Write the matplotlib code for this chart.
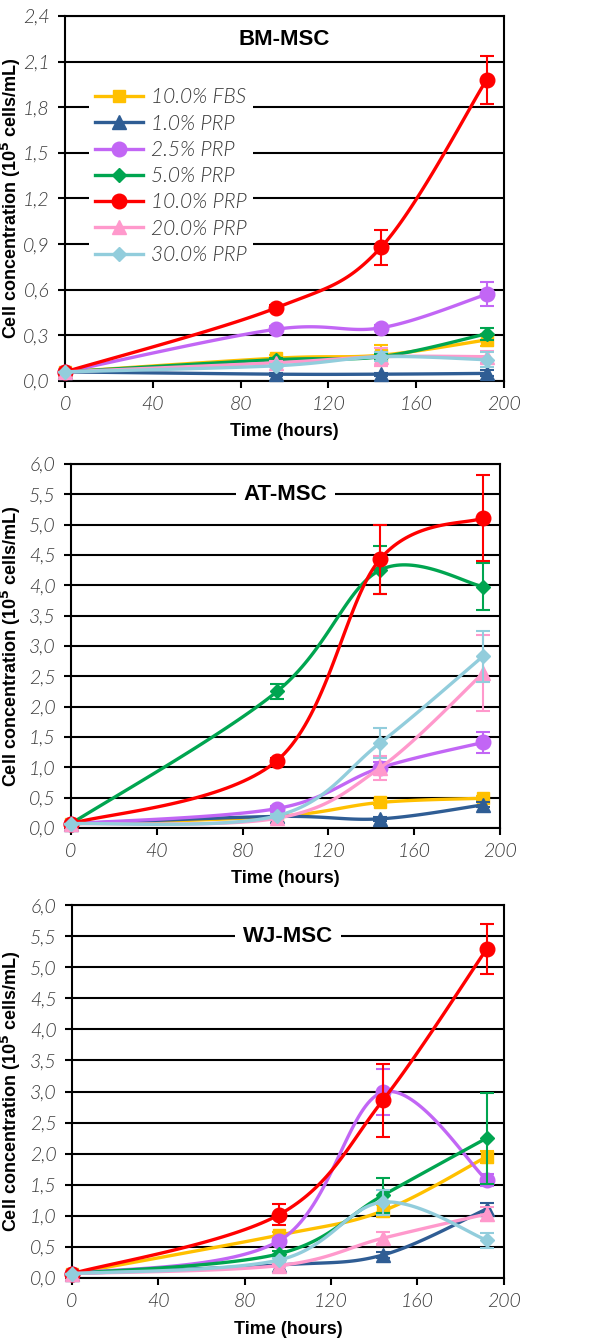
import numpy as np
import matplotlib
matplotlib.use('Agg')
import matplotlib.pyplot as plt
from matplotlib.lines import Line2D
from matplotlib.ticker import FuncFormatter

# time points (hours)
hours = [0, 96, 144, 192]

series_names = ['10.0% FBS', '1.0% PRP', '2.5% PRP', '5.0% PRP', '10.0% PRP', '20.0% PRP', '30.0% PRP']
colors = ['#FFC000', '#2F5D94', '#C266F5', '#00A550', '#FF0000', '#FF99CC', '#92CDDC']
markers = ['s', '^', 'o', 'D', 'o', '^', 'D']

# BM-MSC
bm_vals = [
    [0.06, 0.15, 0.17, 0.27],
    [0.06, 0.045, 0.045, 0.05],
    [0.06, 0.34, 0.35, 0.57],
    [0.06, 0.14, 0.16, 0.31],
    [0.06, 0.48, 0.88, 1.98],
    [0.06, 0.12, 0.16, 0.16],
    [0.06, 0.10, 0.16, 0.14],
]
bm_err = [
    [0, 0.02, 0.07, 0.04],
    [0, 0.01, 0.01, 0.02],
    [0, 0.02, 0.02, 0.08],
    [0, 0.01, 0.02, 0.04],
    [0, 0.02, 0.115, 0.16],
    [0, 0.01, 0.06, 0.04],
    [0, 0.01, 0.03, 0.05],
]

# AT-MSC
at_vals = [
    [0.07, 0.19, 0.42, 0.49],
    [0.07, 0.19, 0.15, 0.38],
    [0.07, 0.32, 0.99, 1.41],
    [0.07, 2.25, 4.25, 3.98],
    [0.07, 1.11, 4.43, 5.11],
    [0.07, 0.16, 0.99, 2.55],
    [0.07, 0.20, 1.40, 2.83],
]
at_err = [
    [0, 0.02, 0.04, 0.04],
    [0, 0.02, 0.03, 0.04],
    [0, 0.04, 0.10, 0.17],
    [0, 0.12, 0.40, 0.38],
    [0, 0.05, 0.57, 0.71],
    [0, 0.03, 0.20, 0.63],
    [0, 0.03, 0.24, 0.42],
]

# WJ-MSC
wj_vals = [
    [0.07, 0.69, 1.08, 1.95],
    [0.07, 0.21, 0.37, 1.11],
    [0.07, 0.60, 2.99, 1.58],
    [0.07, 0.39, 1.33, 2.25],
    [0.07, 1.02, 2.86, 5.29],
    [0.07, 0.20, 0.64, 1.03],
    [0.07, 0.29, 1.22, 0.61],
]
wj_err = [
    [0, 0.05, 0.10, 0.10],
    [0, 0.02, 0.05, 0.10],
    [0, 0.05, 0.37, 0.10],
    [0, 0.05, 0.28, 0.73],
    [0, 0.17, 0.59, 0.40],
    [0, 0.03, 0.10, 0.12],
    [0, 0.03, 0.20, 0.12],
]

tick_font = dict(family='Lato', style='italic', weight=300)
label_font = dict(family='Liberation Sans', weight='bold')
marker_size = {'o': 10.5, 's': 9, '^': 9.5, 'D': 7.5}


def smooth(x, y, n=40):
    # Catmull-Rom style bezier, like the spreadsheet "smoothed line"
    p = np.column_stack([x, y]).astype(float)
    out = []
    for i in range(len(p) - 1):
        p0 = p[i - 1] if i > 0 else p[i]
        p1, p2 = p[i], p[i + 1]
        p3 = p[i + 2] if i + 2 < len(p) else p[i + 1]
        c1 = p1 + (p2 - p0) / 6
        c2 = p2 - (p3 - p1) / 6
        t = np.linspace(0, 1, n)[:, None]
        seg = ((1 - t) ** 3) * p1 + 3 * ((1 - t) ** 2) * t * c1 + 3 * (1 - t) * t ** 2 * c2 + t ** 3 * p2
        out.append(seg if i == 0 else seg[1:])
    out = np.vstack(out)
    return out[:, 0], out[:, 1]


def panel(ax, vals, errs, ymax, ystep, title, title_y):
    for k in range(len(series_names)):
        sx, sy = smooth(hours, vals[k])
        ax.plot(sx, sy, color=colors[k], lw=2.4, zorder=3 + k * 0.1, clip_on=False)
        ax.errorbar(hours, vals[k], yerr=errs[k], fmt='none', ecolor=colors[k],
                    elinewidth=1.5, capsize=5, capthick=1.5, zorder=3 + k * 0.1, clip_on=False)
        ax.plot(hours, vals[k], ls='none', marker=markers[k], ms=marker_size[markers[k]],
                color=colors[k], zorder=3.05 + k * 0.1, clip_on=False)

    ax.set_xlim(0, 200)
    ax.set_ylim(0, ymax)
    ax.set_xticks(np.arange(0, 201, 40))
    ax.set_yticks(np.arange(0, ymax + 1e-9, ystep))
    ax.yaxis.set_major_formatter(FuncFormatter(lambda v, p: f'{v:.1f}'.replace('.', ',')))
    ax.yaxis.grid(True, color='black', lw=1.5, zorder=1)
    ax.set_axisbelow(True)
    for s in ax.spines.values():
        s.set_linewidth(1.5)
    ax.tick_params(axis='both', direction='out', length=5, width=1.5, colors='black',
                   labelcolor='#3a3a3a', labelsize=14, pad=6)
    for lab in ax.get_xticklabels() + ax.get_yticklabels():
        lab.set(**tick_font)

    ax.set_xlabel('Time (hours)', fontsize=13, **label_font)
    ax.set_ylabel('Cell concentration (10$^{\\mathbf{5}}$ cells/mL)', fontsize=13, **label_font)
    ax.xaxis.set_label_coords(0.5, -0.115)
    ax.text(0.5, title_y, title, transform=ax.transAxes, ha='center', va='center',
            fontsize=16, zorder=10, bbox=dict(boxstyle='square,pad=0.35', fc='white', ec='none'),
            **label_font)


fig = plt.figure(figsize=(6.14, 13.43), dpi=100)
ax1 = fig.add_axes([0.106, 0.7163, 0.715, 0.2718])
ax2 = fig.add_axes([0.1156, 0.3835, 0.699, 0.271])
ax3 = fig.add_axes([0.117, 0.0484, 0.7036, 0.2777])

panel(ax1, bm_vals, bm_err, 2.4, 0.3, 'BM-MSC', 0.935)
panel(ax2, at_vals, at_err, 6.0, 0.5, 'AT-MSC', 0.917)
panel(ax3, wj_vals, wj_err, 6.0, 0.5, 'WJ-MSC', 0.917)

ax1.yaxis.set_label_coords(-0.096, 0.5)
ax2.yaxis.set_label_coords(-0.112, 0.5)
ax3.yaxis.set_label_coords(-0.113, 0.5)

handles = [Line2D([0], [0], color=c, lw=2.4, marker=m, ms=marker_size[m])
           for c, m in zip(colors, markers)]
leg = ax1.legend(handles, series_names, loc='upper left', bbox_to_anchor=(0.03, 0.85),
                 frameon=True, fancybox=False, framealpha=1, edgecolor='none',
                 handlelength=2.3, labelspacing=0.3, borderpad=0.3, handletextpad=0.4,
                 prop=dict(family='Lato', style='italic', weight=300, size=15))
leg.set_zorder(9)
for t in leg.get_texts():
    t.set_color('#3a3a3a')

fig.savefig('out.png', dpi=100)
